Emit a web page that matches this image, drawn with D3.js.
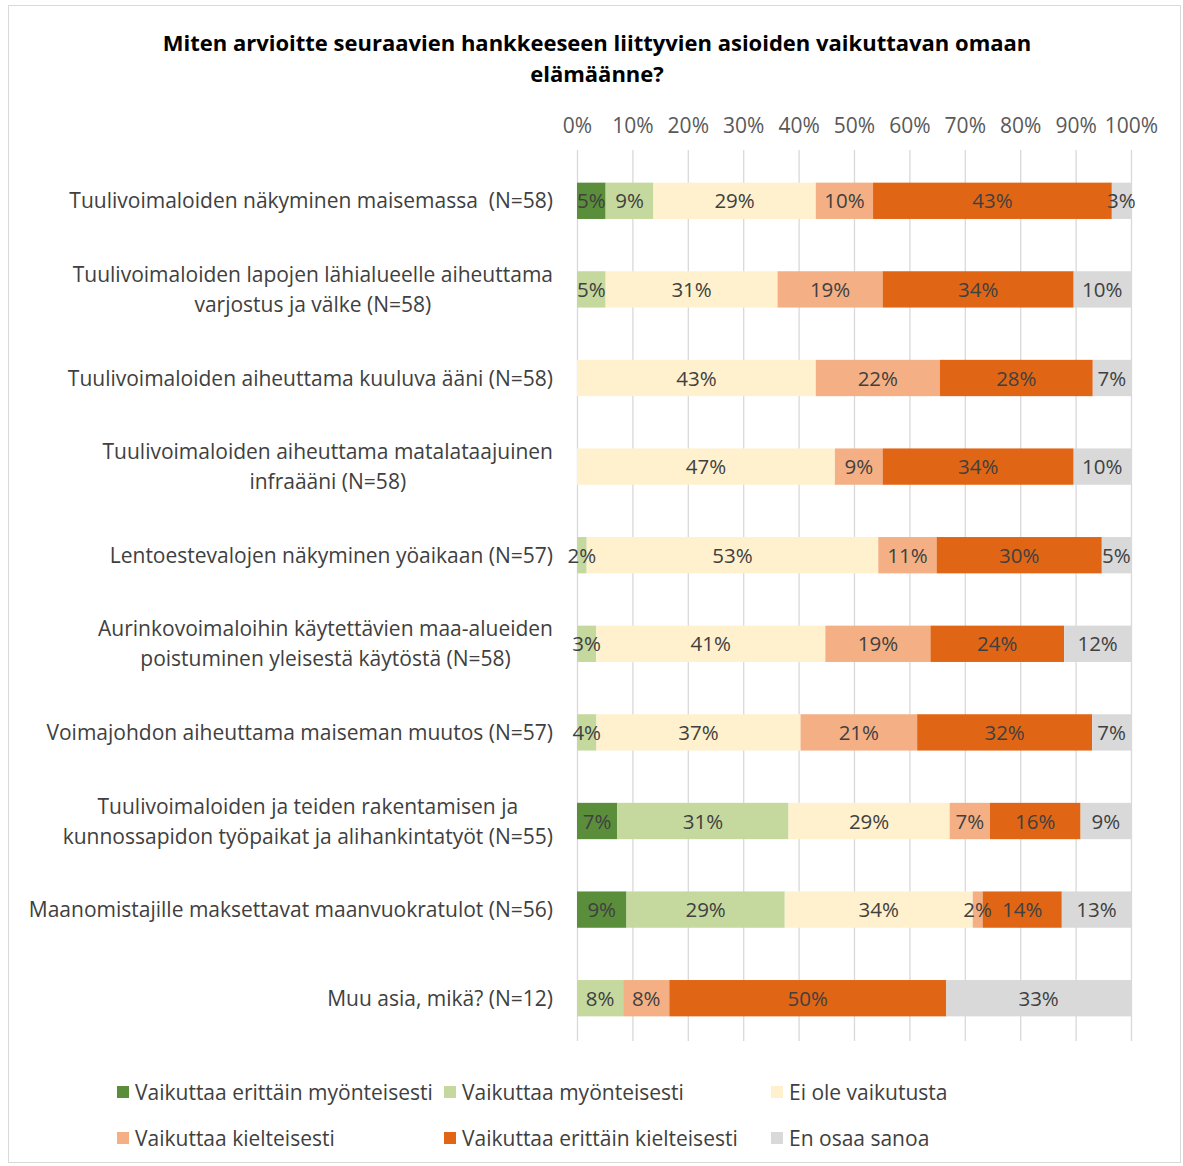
<!DOCTYPE html>
<html>
<head>
<meta charset="utf-8">
<script src="https://cdn.jsdelivr.net/npm/d3@7"></script>
<style>
  html, body { margin: 0; padding: 0; background: #fff; }
  svg { display: block; font-family: "Open Sans", sans-serif; }
  text { white-space: pre; }
</style>
</head>
<body>
<svg id="chart" width="1183" height="1166"></svg>
<script>
const title = ["Miten arvioitte seuraavien hankkeeseen liittyvien asioiden vaikuttavan omaan", "elämäänne?"];

const categories = [
  "Tuulivoimaloiden näkyminen maisemassa  (N=58)",
  "Tuulivoimaloiden lapojen lähialueelle aiheuttama\nvarjostus ja välke (N=58)",
  "Tuulivoimaloiden aiheuttama kuuluva ääni (N=58)",
  "Tuulivoimaloiden aiheuttama matalataajuinen\ninfraääni (N=58)",
  "Lentoestevalojen näkyminen yöaikaan (N=57)",
  "Aurinkovoimaloihin käytettävien maa-alueiden\npoistuminen yleisestä käytöstä (N=58)",
  "Voimajohdon aiheuttama maiseman muutos (N=57)",
  "Tuulivoimaloiden ja teiden rakentamisen ja\nkunnossapidon työpaikat ja alihankintatyöt (N=55)",
  "Maanomistajille maksettavat maanvuokratulot (N=56)",
  "Muu asia, mikä? (N=12)"
];

const seriesNames = [
  "Vaikuttaa erittäin myönteisesti",
  "Vaikuttaa myönteisesti",
  "Ei ole vaikutusta",
  "Vaikuttaa kielteisesti",
  "Vaikuttaa erittäin kielteisesti",
  "En osaa sanoa"
];

const seriesColors = ["#5B8E3A", "#C5D99F", "#FFF1CD", "#F4B084", "#E06616", "#D9D9D9"];

// values in percent
const veryPositive = [5.17, 0, 0, 0, 0, 0, 0, 7.27, 8.93, 0];
const positive     = [8.62, 5.17, 0, 0, 1.75, 3.45, 3.51, 30.91, 28.57, 8.33];
const noEffect     = [29.31, 31.03, 43.10, 46.55, 52.63, 41.38, 36.84, 29.09, 33.93, 0];
const negative     = [10.34, 18.97, 22.41, 8.62, 10.53, 18.97, 21.05, 7.27, 1.79, 8.33];
const veryNegative = [43.10, 34.48, 27.59, 34.48, 29.82, 24.14, 31.58, 16.36, 14.29, 50.00];
const cannotSay    = [3.45, 10.34, 6.90, 10.34, 5.26, 12.07, 7.02, 9.09, 12.50, 33.33];

const tickValues = [0, 10, 20, 30, 40, 50, 60, 70, 80, 90, 100];

const seriesValues = [veryPositive, positive, noEffect, negative, veryNegative, cannotSay];

const svg = d3.select("#chart");

// border
svg.append("rect")
  .attr("x", 8.5).attr("y", 5.5).attr("width", 1172).attr("height", 1157)
  .attr("fill", "none").attr("stroke", "#d9d9d9").attr("stroke-width", 1);

// title
svg.append("g").selectAll("text").data(title).join("text")
  .attr("x", 597).attr("y", (d, i) => 51 + i * 31)
  .attr("text-anchor", "middle")
  .attr("font-size", 22).attr("font-weight", "bold").attr("fill", "#000")
  .text(d => d);

const rows = categories.map((c, i) => {
  const r = { cat: c };
  seriesNames.forEach((s, j) => r[s] = seriesValues[j][i]);
  return r;
});

const stacked = d3.stack().keys(seriesNames)(rows);

const x = d3.scaleLinear().domain([0, 100]).range([577, 1131]);
const y = d3.scaleBand().domain(categories).range([156.5, 1042.5]).paddingInner(0.59).paddingOuter(0.295);

// gridlines
svg.append("g").selectAll("line").data(tickValues).join("line")
  .attr("x1", d => x(d) + 0.5).attr("x2", d => x(d) + 0.5)
  .attr("y1", 150).attr("y2", 1041)
  .attr("stroke", "#d9d9d9").attr("stroke-width", 1.3);

// top axis
const axis = d3.axisTop(x).tickValues(tickValues).tickFormat(d => d + "%").tickSize(0).tickPadding(0);
const ag = svg.append("g").attr("transform", "translate(0,133)").call(axis);
ag.select(".domain").remove();
ag.selectAll("text").attr("font-size", 21).attr("fill", "#595959").attr("font-family", "'Open Sans', sans-serif");

// bars
const layers = svg.append("g").selectAll("g").data(stacked).join("g")
  .attr("fill", (d, i) => seriesColors[i]);

layers.selectAll("rect").data(d => d).join("rect")
  .attr("x", d => x(d[0]))
  .attr("y", d => y(d.data.cat))
  .attr("width", d => Math.max(0, x(d[1]) - x(d[0])))
  .attr("height", y.bandwidth());

// data labels
const lab = svg.append("g");
stacked.forEach((layer) => {
  layer.forEach(d => {
    const v = d[1] - d[0];
    if (v <= 0) return;
    lab.append("text")
      .attr("x", (x(d[0]) + x(d[1])) / 2)
      .attr("y", y(d.data.cat) + y.bandwidth() / 2 + 7.5)
      .attr("text-anchor", "middle")
      .attr("font-size", 20.5).attr("fill", "#404040")
      .text(Math.round(v) + "%");
  });
});

// category labels
const catG = svg.append("g");
categories.forEach(c => {
  const lines = c.split("\n");
  const cy = y(c) + y.bandwidth() / 2;
  const t = catG.append("text")
    .attr("text-anchor", "middle")
    .attr("font-size", 21).attr("fill", "#404040");
  lines.forEach((l, i) => {
    t.append("tspan").attr("x", 0)
      .attr("y", cy + 7.5 + (i - (lines.length - 1) / 2) * 30)
      .text(l);
  });
  let maxW = 0;
  t.selectAll("tspan").each(function () { maxW = Math.max(maxW, this.getComputedTextLength()); });
  t.selectAll("tspan").attr("x", 553 - maxW / 2);
});

// legend
const colX = [117, 444, 771];
const rowY = [1092, 1138];
const lg = svg.append("g").selectAll("g").data(seriesNames).join("g")
  .attr("transform", (d, i) => `translate(${colX[i % 3]},${rowY[Math.floor(i / 3)]})`);
lg.append("rect").attr("x", 0).attr("y", -6).attr("width", 12).attr("height", 12)
  .attr("fill", (d, i) => seriesColors[i]);
lg.append("text").attr("x", 18).attr("y", 7.5)
  .attr("font-size", 21).attr("fill", "#404040").text(d => d);
</script>
</body>
</html>
